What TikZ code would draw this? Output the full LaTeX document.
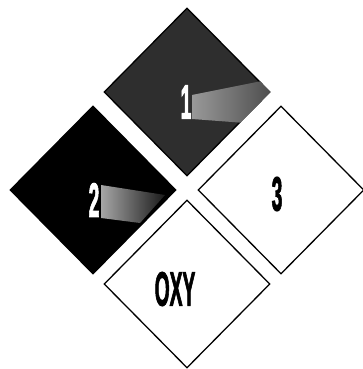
\documentclass[tikz,border=0pt]{standalone}
\usepackage{fontspec}
\setmainfont{Liberation Sans}
\newfontfamily\heavyfont{Liberation Sans}[BoldFeatures={FakeBold=2.5}]
\usetikzlibrary{shapes.geometric}
\newcommand{\narrowtxt}[1]{\scalebox{0.4}[1]{#1}}

\begin{document}
\begin{tikzpicture}[x=1pt,y=1pt,
  d/.style={diamond,draw,line width=1.3pt,aspect=1,minimum width=166pt,minimum height=168pt,inner sep=0pt},
  lbl/.style={font=\heavyfont\bfseries\fontsize{48}{48}\selectfont,inner sep=0pt}
]
\useasboundingbox (0,0) rectangle (363,369);
\node[d,fill=black!82] (one) at (187,277) {};
\node[d,fill=black] (two) at (93,179) {};
\node[d,fill=white] (three) at (281,179) {};
\node[d,fill=white] (oxy) at (187,85) {};
% light spray
\begin{scope}
\clip (one.north) -- (one.east) -- (one.south) -- (one.west) -- cycle;
\shade[left color=gray!80,right color=black!70] (192,274) -- (272,290) -- (272,244) -- (192,250) -- cycle;
\end{scope}
\begin{scope}
\clip (two.north) -- (two.east) -- (two.south) -- (two.west) -- cycle;
\shade[left color=gray!70,right color=black!90] (101,184) -- (165,174) -- (140,146) -- (101,151) -- cycle;
\end{scope}
\node[lbl,text=white] (n1) at (186,267) {\narrowtxt{1}};
\node[lbl,text=white] (n2) at (94,169) {\narrowtxt{2}};
\node[lbl] (n3) at (277,175) {\narrowtxt{3}};
\node[lbl] (nox) at (175,80) {\narrowtxt{OXY}};
\end{tikzpicture}
\end{document}
